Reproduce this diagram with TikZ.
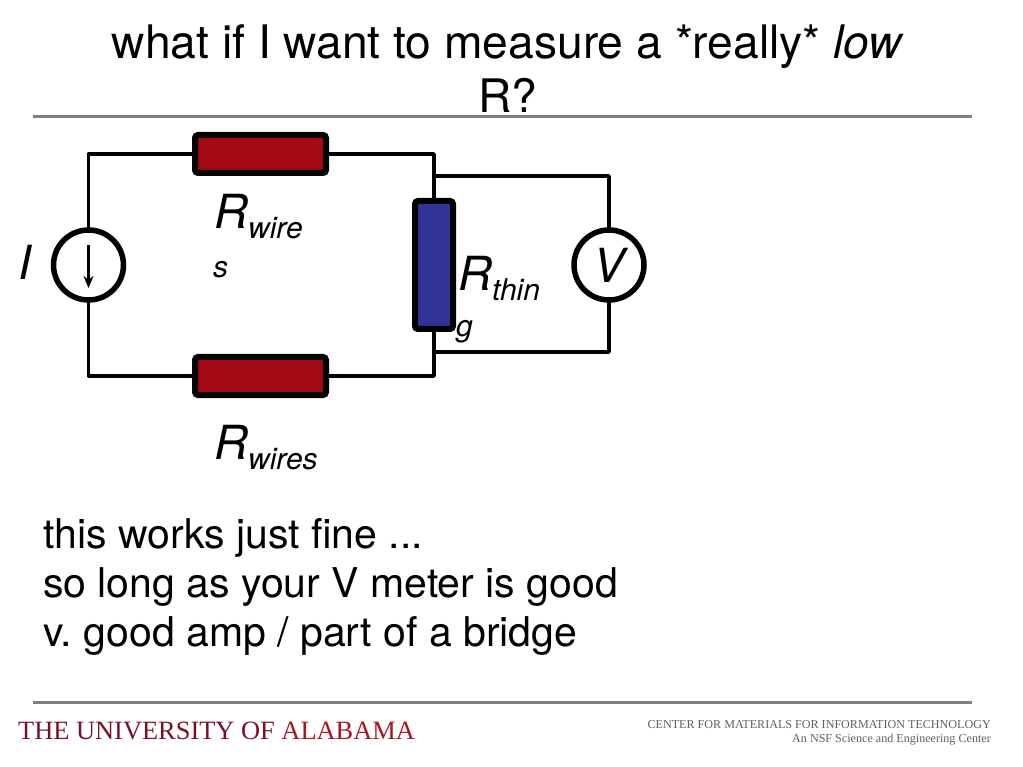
\documentclass[tikz,border=0pt]{standalone}
\usepackage{fontspec}
\setmainfont{TeX Gyre Heros}
\newfontfamily\footfont{Liberation Serif}
\usetikzlibrary{arrows.meta}
\definecolor{wirered}{RGB}{163,9,18}
\definecolor{thinblue}{RGB}{49,51,153}
\definecolor{rulegray}{RGB}{128,128,128}
\definecolor{uamaroon}{RGB}{122,16,40}
\definecolor{uared}{RGB}{170,20,35}
\definecolor{footgray}{RGB}{95,95,95}
\newcommand{\symlabel}[2]{{\fontsize{47}{47}\selectfont\itshape #1}\raisebox{-10pt}{\fontsize{30}{30}\selectfont\itshape #2}}
\frenchspacing
\begin{document}
\begin{tikzpicture}[x=1pt,y=-1pt,
  wire/.style={line width=3.8pt,line cap=round,line join=round},
  hbar/.style={draw,rounded corners=3pt,line width=6pt,minimum width=131pt,minimum height=38pt,inner sep=0pt,fill=wirered},
  vbar/.style={draw,rounded corners=3pt,line width=6pt,minimum width=38pt,minimum height=128pt,inner sep=0pt,fill=thinblue},
  meter/.style={circle,draw,line width=5.5pt,fill=white,minimum size=70pt,inner sep=0pt},
  body text/.style={anchor=base west,inner sep=0pt,font=\fontsize{41}{41}\selectfont},
  title text/.style={anchor=base,inner sep=0pt,font=\fontsize{46.2}{46.2}\selectfont},
  sym text/.style={anchor=base west,inner sep=0pt},
  rule line/.style={draw=rulegray,line width=3pt}]
  \useasboundingbox (0,0) rectangle (1023,767);

  \node[title text] (title1) at (508,59) {what if I want to measure a *really* \textit{low}};
  \node[title text] (title2) at (508,113) {R?};
  \coordinate (ruleAl) at (33,116.5);
  \coordinate (ruleAr) at (972,116.5);
  \draw[rule line] (ruleAl) -- (ruleAr);

  \node[meter] (isrc) at (88.5,265) {};
  \node[meter] (vmeter) at (609,265) {\fontsize{47}{47}\selectfont\itshape V};
  \node[hbar] (rtop) at (260.5,154) {};
  \node[hbar] (rbot) at (260.5,376) {};
  \node[vbar] (rthin) at (434,265) {};
  \coordinate (tapA) at (434,176);
  \coordinate (tapB) at (434,352);
  \coordinate (arrowA) at (88.5,245);
  \coordinate (arrowB) at (88.5,288);

  \draw[wire] (isrc) |- (rtop);
  \draw[wire] (rtop) -| (rthin);
  \draw[wire] (isrc) |- (rbot);
  \draw[wire] (rbot) -| (rthin);
  \draw[wire] (tapA) -| (vmeter);
  \draw[wire] (tapB) -| (vmeter);
  \draw[-{Stealth[length=12pt,width=10pt]},line width=2.6pt] (arrowA) -- (arrowB);

  \node[sym text] (ilabel) at (18,280) {\fontsize{47}{47}\selectfont\itshape I};
  \node[sym text] (rlabelA) at (214,229) {\symlabel{R}{wire}};
  \node[sym text] (rlabelAs) at (213,278) {\fontsize{30}{30}\selectfont\itshape s};
  \node[sym text] (rlabelB) at (214,459) {\symlabel{R}{wires}};
  \node[sym text] (rlabelC) at (458,291) {\symlabel{R}{thin}};
  \node[sym text] (rlabelCg) at (456,337) {\fontsize{30}{30}\selectfont\itshape g};

  \node[body text] (line1) at (43,548) {this works just fine ...};
  \node[body text] (line2) at (43,597) {so long as your V meter is good};
  \node[body text] (line3) at (43,646) {v. good amp / part of a bridge};

  \coordinate (ruleBl) at (33,702);
  \coordinate (ruleBr) at (972,702);
  \draw[rule line] (ruleBl) -- (ruleBr);
  \node[anchor=base west,inner sep=0pt,font=\footfont\fontsize{26.4}{26.4}\selectfont] (ualabel) at (18,739) {\textcolor{uamaroon}{THE UNIVERSITY OF} \textcolor{uared}{ALABAMA}};
  \node[anchor=base east,inner sep=0pt,text=footgray,font=\footfont\fontsize{12.1}{12.1}\selectfont] (center1) at (991,728) {CENTER FOR MATERIALS FOR INFORMATION TECHNOLOGY};
  \node[anchor=base east,inner sep=0pt,text=footgray,font=\footfont\fontsize{12.1}{12.1}\selectfont] (center2) at (991,742) {An NSF Science and Engineering Center};
\end{tikzpicture}
\end{document}
